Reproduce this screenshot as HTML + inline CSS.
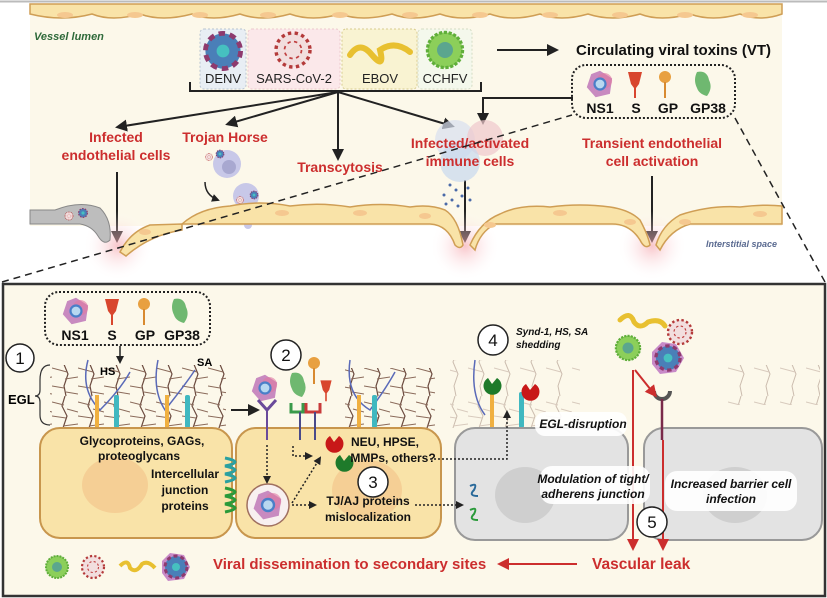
<!DOCTYPE html>
<html><head><meta charset="utf-8"><style>
html,body{margin:0;padding:0;background:#fff;}
svg{display:block;font-family:"Liberation Sans",sans-serif;}
.b{font-weight:bold;}
.r{fill:#cc2e2e;font-weight:bold;font-size:14px;}
</style></head><body>
<svg width="827" height="598" viewBox="0 0 827 598" xmlns="http://www.w3.org/2000/svg">
<defs>
<marker id="ak" markerWidth="8" markerHeight="8" refX="6" refY="4" orient="auto" markerUnits="userSpaceOnUse"><path d="M0,0 L8,4 L0,8 z" fill="#222"/></marker>
<marker id="ak2" markerWidth="12" markerHeight="12" refX="9" refY="6" orient="auto" markerUnits="userSpaceOnUse"><path d="M0,0 L12,6 L0,12 z" fill="#222"/></marker>
<marker id="ar" markerWidth="12" markerHeight="12" refX="9" refY="6" orient="auto" markerUnits="userSpaceOnUse"><path d="M0,0 L12,6 L0,12 z" fill="#cc2e2e"/></marker>
<radialGradient id="glow"><stop offset="0" stop-color="#f4a0a8" stop-opacity=".6"/><stop offset="1" stop-color="#fff" stop-opacity="0"/></radialGradient>
<pattern id="glx" width="26" height="66" patternUnits="userSpaceOnUse">
<path d="M13,0 L10,10 L15,20 L11,32 L16,44 L12,56 L14,66" stroke="#6b4a3e" fill="none" stroke-width="1.2"/>
<path d="M0,6 L12,9 M15,13 L26,16 M0,20 L14,22 M11,30 L26,28 M0,38 L15,42 M13,49 L26,47 M0,56 L12,58 M14,62 L26,64" stroke="#8a6a5a" stroke-width="1" fill="none"/>
</pattern>
<pattern id="glx2" width="26" height="66" patternUnits="userSpaceOnUse">
<path d="M13,0 L10,10 L15,20 L11,32 L16,44 L12,56 L14,66" stroke="#cbbcae" fill="none" stroke-width="1"/>
<path d="M0,6 L12,9 M15,13 L26,16 M0,20 L14,22 M11,30 L26,28 M0,38 L15,42" stroke="#d8cabd" stroke-width="1" fill="none"/>
</pattern>
<g id="virA"><circle r="11" fill="#4a7fb8"/><circle r="11" fill="none" stroke="#8e3a6e" stroke-width="3" stroke-dasharray="4 3"/><circle r="4" fill="#46c0c0"/></g>
<g id="virS"><circle r="10" fill="#f2dede" stroke="#b43a3a" stroke-width="2" stroke-dasharray="2 2"/><circle r="5" fill="none" stroke="#c04040" stroke-dasharray="2 2"/></g>
<g id="virC"><circle r="11" fill="#8ccf5a" stroke="#5fae3a" stroke-width="2" stroke-dasharray="2 1"/><circle r="5" fill="#3a8ab0" opacity=".6"/></g>
<g id="ns1"><polygon points="0,-12 11,-5 9,9 -4,12 -12,3 -8,-9" fill="#c88ac0"/><circle r="7" fill="#e07aa0" opacity=".6" cx="4" cy="-3"/><circle r="5" fill="#b8d8f0" stroke="#4a7fc8" stroke-width="2"/></g>
<g id="sprot"><path d="M-7,-12 L7,-12 L4,0 L1,4 L1,14 L-1,14 L-1,4 L-4,0 z" fill="#d8462e"/></g>
<g id="gp"><circle cy="-7" r="6" fill="#e8a040"/><rect x="-1" y="-2" width="2" height="16" fill="#d88a30"/></g>
<g id="gp38"><path d="M-6,-12 Q4,-14 6,-4 Q10,4 4,12 Q-4,10 -6,4 Q-10,-4 -6,-12z" fill="#6fb870"/></g>
</defs>

<!-- TOP PANEL -->
<line x1="0" y1="1.5" x2="827" y2="1.5" stroke="#bbb" stroke-width="2"/>
<rect x="30" y="4" width="752" height="222" fill="#fcf8ea"/>
<g fill="#f9e3a8" stroke="#cf9e55" stroke-width="1.5">
<path d="M30,4 H782 V14 Q760,22 740,14 Q712,22 690,14 Q660,22 640,14 Q612,22 588,14 Q560,22 540,14 Q512,22 490,14 Q462,22 440,14 Q412,22 392,14 Q362,22 340,14 Q312,22 290,14 Q262,22 240,14 Q212,22 192,14 Q162,22 140,14 Q112,22 92,14 Q62,22 30,14 Z"/>
</g>
<g fill="#f5c890">
<ellipse cx="65" cy="15" rx="8" ry="3"/><ellipse cx="135" cy="15" rx="8" ry="3"/><ellipse cx="200" cy="15" rx="8" ry="3"/><ellipse cx="268" cy="15" rx="8" ry="3"/><ellipse cx="340" cy="15" rx="8" ry="3"/><ellipse cx="410" cy="15" rx="8" ry="3"/><ellipse cx="480" cy="15" rx="8" ry="3"/><ellipse cx="550" cy="15" rx="8" ry="3"/><ellipse cx="620" cy="15" rx="8" ry="3"/><ellipse cx="685" cy="15" rx="8" ry="3"/><ellipse cx="750" cy="15" rx="8" ry="3"/>
</g>
<text x="34" y="40" font-size="11" font-style="italic" font-weight="bold" fill="#2f6a3a">Vessel lumen</text>

<rect x="200" y="29" width="46" height="60" rx="4" fill="#e8eef4" stroke="#b8c4d0" stroke-dasharray="2 2"/>
<rect x="248" y="29" width="92" height="60" rx="4" fill="#fbe8ea" stroke="#ecc8cc" stroke-dasharray="2 2"/>
<rect x="342" y="29" width="75" height="60" rx="4" fill="#f9f3d2" stroke="#d8cc90" stroke-dasharray="2 2"/>
<rect x="418" y="29" width="54" height="60" rx="4" fill="#f4f8ec" stroke="#d4dcc4" stroke-dasharray="2 2"/>
<use href="#virA" transform="translate(223 51) scale(1.6)"/>
<use href="#virS" transform="translate(293 50) scale(1.7)"/>
<path d="M350,55 Q360,40 372,55 Q385,70 380,50 Q395,40 410,52" stroke="#e8c030" stroke-width="6" fill="none" stroke-linecap="round"/>
<use href="#virC" transform="translate(445 50) scale(1.6)"/>
<g font-size="13" fill="#222" text-anchor="middle">
<text x="223" y="83">DENV</text><text x="294" y="83">SARS-CoV-2</text><text x="380" y="83">EBOV</text><text x="445" y="83">CCHFV</text></g>
<path d="M190,82 V91 H481 V82" stroke="#222" stroke-width="2" fill="none"/>
<g stroke="#222" stroke-width="2" fill="none">
<line x1="338" y1="92" x2="118" y2="127" marker-end="url(#ak2)"/>
<line x1="338" y1="92" x2="228" y2="124" marker-end="url(#ak2)"/>
<line x1="338" y1="92" x2="338" y2="158" marker-end="url(#ak2)"/>
<line x1="338" y1="92" x2="452" y2="126" marker-end="url(#ak2)"/>
<line x1="497" y1="50" x2="556" y2="50" marker-end="url(#ak2)"/>
<path d="M573,98 H483 V122" marker-end="url(#ak2)"/>
<line x1="117" y1="172" x2="117" y2="240" marker-end="url(#ak2)"/>
<line x1="465" y1="180" x2="465" y2="240" marker-end="url(#ak2)"/>
<line x1="652" y1="176" x2="652" y2="240" marker-end="url(#ak2)"/>
</g>
<text x="576" y="55" font-size="15" class="b" fill="#111">Circulating viral toxins (VT)</text>
<rect x="572" y="65" width="163" height="53" rx="14" fill="none" stroke="#222" stroke-width="2" stroke-dasharray="2 2"/>
<use href="#ns1" transform="translate(600 84) scale(1.1)"/>
<use href="#sprot" transform="translate(635 84)"/>
<use href="#gp" transform="translate(665 84)"/>
<use href="#gp38" transform="translate(703 84)"/>
<g font-size="14" class="b" fill="#111" text-anchor="middle"><text x="600" y="113">NS1</text><text x="636" y="113">S</text><text x="668" y="113">GP</text><text x="708" y="113">GP38</text></g>

<circle cx="455" cy="140" r="20" fill="#d8e0f0" opacity=".7"/>
<circle cx="485" cy="138" r="18" fill="#f0c8cc" opacity=".7"/>
<circle cx="460" cy="162" r="20" fill="#c8d8ee" opacity=".7"/>
<g fill="#4a6aa8"><circle cx="450" cy="185" r="1.5"/><circle cx="456" cy="190" r="1.5"/><circle cx="444" cy="195" r="1.5"/><circle cx="462" cy="196" r="1.5"/><circle cx="452" cy="200" r="1.5"/><circle cx="458" cy="206" r="1.5"/><circle cx="446" cy="204" r="1.5"/><circle cx="468" cy="188" r="1.5"/><circle cx="470" cy="200" r="1.5"/></g>
<circle cx="227" cy="164" r="14" fill="#c8c8e8"/><circle cx="229" cy="167" r="7" fill="#a8a8d0"/>
<use href="#virS" transform="translate(209 157) scale(.35)"/>
<use href="#virA" transform="translate(220 154) scale(.35)"/>
<path d="M205,182 Q205,195 218,200" stroke="#222" stroke-width="1.5" fill="none" marker-end="url(#ak)"/>
<circle cx="246" cy="196" r="13" fill="#c8c8e8"/><circle cx="248" cy="225" r="4" fill="#c8c8e8"/><rect x="246" y="205" width="3" height="20" fill="#c8c8e8"/>
<use href="#virS" transform="translate(240 200) scale(.35)"/><use href="#virA" transform="translate(254 195) scale(.35)"/>

<circle cx="118" cy="246" r="35" fill="url(#glow)"/>
<circle cx="465" cy="246" r="35" fill="url(#glow)"/>
<circle cx="652" cy="246" r="35" fill="url(#glow)"/>
<g fill="#f9e3a8" stroke="#cf9e55" stroke-width="1.5">
<path d="M182,224 Q200,208 230,206 Q260,200 290,206 Q320,202 350,207 Q380,202 410,207 Q430,204 445,210 Q458,218 463,245 Q460,250 455,245 Q448,225 430,224 Z"/>
<path d="M120,252 Q130,232 150,225 L182,224 L182,230 Q150,235 126,256 Z"/>
<path d="M470,245 Q480,222 500,214 Q520,204 550,207 Q580,203 610,207 Q630,210 640,220 Q648,235 650,245 Q645,250 640,240 Q630,224 612,224 L495,224 Q480,232 475,250 Z"/>
<path d="M656,245 Q662,225 680,215 Q710,205 740,207 Q765,204 782,206 V224 H690 Q670,230 660,250 Z"/>
</g>
<g fill="#f5c890"><ellipse cx="145" cy="232" rx="6" ry="3"/><ellipse cx="282" cy="213" rx="7" ry="3"/><ellipse cx="360" cy="213" rx="7" ry="3"/><ellipse cx="425" cy="216" rx="6" ry="3"/><ellipse cx="490" cy="225" rx="6" ry="3"/><ellipse cx="560" cy="213" rx="7" ry="3"/><ellipse cx="630" cy="222" rx="6" ry="3"/><ellipse cx="685" cy="222" rx="6" ry="3"/><ellipse cx="760" cy="214" rx="7" ry="3"/></g>
<path d="M30,210 L55,210 Q80,200 100,208 Q112,220 110,240 Q104,246 98,236 Q92,226 80,224 L30,224 Z" fill="#bdbdbd" stroke="#888"/>
<use href="#virS" transform="translate(69 216) scale(.4)"/><use href="#virA" transform="translate(83 213) scale(.4)"/>
<text x="706" y="247" font-size="9" font-style="italic" font-weight="bold" fill="#5a6a90">Interstitial space</text>

<g class="r" text-anchor="middle">
<text x="116" y="142">Infected</text><text x="116" y="160">endothelial cells</text>
<text x="225" y="142">Trojan Horse</text>
<text x="340" y="172">Transcytosis</text>
<text x="470" y="148">Infected/activated</text><text x="470" y="166">immune cells</text>
<text x="652" y="148">Transient endothelial</text><text x="652" y="166">cell activation</text>
</g>
<line x1="2" y1="282" x2="572" y2="115" stroke="#222" stroke-width="1.5" stroke-dasharray="7 5"/>
<line x1="735" y1="118" x2="825" y2="282" stroke="#222" stroke-width="1.5" stroke-dasharray="7 5"/>

<!-- BOTTOM PANEL -->
<rect x="3" y="284" width="822" height="312" fill="#fcf8ea" stroke="#333" stroke-width="2.5"/>
<rect x="45" y="292" width="165" height="53" rx="14" fill="none" stroke="#222" stroke-width="2" stroke-dasharray="2 2"/>
<use href="#ns1" transform="translate(76 311) scale(1.1)"/>
<use href="#sprot" transform="translate(112 311)"/>
<use href="#gp" transform="translate(144 311)"/>
<use href="#gp38" transform="translate(180 311)"/>
<g font-size="14" class="b" fill="#111" text-anchor="middle"><text x="75" y="340">NS1</text><text x="112" y="340">S</text><text x="145" y="340">GP</text><text x="182" y="340">GP38</text></g>
<line x1="120" y1="346" x2="120" y2="362" stroke="#222" stroke-width="1.5" marker-end="url(#ak)"/>
<text x="8" y="404" font-size="13" class="b">EGL</text>
<path d="M50,365 Q40,365 40,380 V390 Q40,396 35,396 Q40,396 40,402 V415 Q40,425 50,425" stroke="#333" fill="none" stroke-width="1.2"/>
<rect x="50" y="365" width="176" height="63" fill="url(#glx)"/>
<rect x="345" y="368" width="90" height="60" fill="url(#glx)"/>
<rect x="450" y="360" width="130" height="68" fill="url(#glx2)"/>
<rect x="720" y="365" width="100" height="40" fill="url(#glx2)"/>
<g stroke="#5a6ab8" stroke-width="1.5" fill="none">
<path d="M88,360 Q80,390 100,410 Q120,390 130,372"/><path d="M158,360 Q152,390 165,410 Q185,385 195,370"/><path d="M350,360 Q345,395 370,410 Q385,390 395,372"/><path d="M475,360 Q470,395 485,415"/></g>
<g fill="#f0b040"><rect x="95" y="395" width="4" height="33"/><rect x="165" y="395" width="4" height="33"/><rect x="357" y="395" width="4" height="33"/><rect x="490" y="392" width="4" height="36"/></g>
<g fill="#40b8c0"><rect x="114" y="395" width="5" height="33" rx="2"/><rect x="185" y="395" width="5" height="33" rx="2"/><rect x="372" y="395" width="5" height="33" rx="2"/><rect x="519" y="392" width="5" height="36" rx="2"/></g>
<text x="100" y="375" font-size="11" class="b">HS</text><text x="197" y="366" font-size="11" class="b">SA</text>
<line x1="231" y1="410" x2="257" y2="410" stroke="#222" stroke-width="2" marker-end="url(#ak2)"/>

<rect x="40" y="428" width="192" height="110" rx="20" fill="#f9e3a8" stroke="#c8964d" stroke-width="2"/>
<ellipse cx="115" cy="485" rx="33" ry="28" fill="#f5cf95"/>
<rect x="236" y="428" width="205" height="110" rx="20" fill="#f9e3a8" stroke="#c8964d" stroke-width="2"/>
<ellipse cx="367" cy="490" rx="35" ry="30" fill="#f5cf95"/>
<rect x="455" y="428" width="173" height="112" rx="20" fill="#e3e3e3" stroke="#999" stroke-width="2"/>
<ellipse cx="525" cy="495" rx="30" ry="28" fill="#cfcfcf"/>
<rect x="644" y="428" width="178" height="112" rx="20" fill="#e3e3e3" stroke="#999" stroke-width="2"/>
<ellipse cx="735" cy="495" rx="32" ry="28" fill="#cfcfcf"/>
<path d="M225,458 Q245,462 225,466 Q245,470 225,474 Q245,478 225,482" stroke="#2aa0a0" stroke-width="3" fill="none"/>
<path d="M225,488 Q245,492 225,496 Q245,500 225,504 Q245,508 225,512" stroke="#2a9a3a" stroke-width="3" fill="none"/>
<path d="M470,486 q8,-4 4,4 q-6,6 4,6" stroke="#2a6a9a" stroke-width="2" fill="none"/>
<path d="M470,510 q8,-4 4,4 q-6,6 4,6" stroke="#2a9a3a" stroke-width="2" fill="none"/>
<use href="#ns1" transform="translate(265 388) scale(1.1)"/>
<path d="M258,400 L267,410 L276,400" stroke="#6a4a9a" stroke-width="3" fill="none"/><line x1="267" y1="410" x2="267" y2="440" stroke="#6a4a9a" stroke-width="2"/>
<use href="#gp38" transform="translate(298 385)"/><use href="#gp" transform="translate(314 370)"/><use href="#sprot" transform="translate(326 390) scale(.8)"/>
<path d="M291,403 V412 H303 V403" stroke="#3a9a4a" stroke-width="3" fill="none"/><path d="M306,403 V412 H320 V403" stroke="#c83a3a" stroke-width="3" fill="none"/>
<line x1="300" y1="412" x2="300" y2="440" stroke="#4a4a8a" stroke-width="2"/><line x1="315" y1="412" x2="315" y2="440" stroke="#4a4a8a" stroke-width="2"/>
<path d="M330,436 a9,9 0 1,0 9,0 l-5,6z" fill="#c81818"/>
<path d="M340,455 a9,9 0 1,0 9,0 l-5,6z" fill="#1e7a2a"/>
<path d="M488,378 a9,9 0 1,0 9,0 l-5,6z" fill="#1e7a2a"/>
<path d="M526,384 a9,9 0 1,0 9,0 l-5,6z" fill="#c81818"/>
<g stroke="#222" stroke-width="1.5" fill="none" stroke-dasharray="2 2">
<line x1="267" y1="445" x2="267" y2="482" marker-end="url(#ak)"/>
<path d="M293,446 V456 H311" marker-end="url(#ak)"/>
<line x1="292" y1="503" x2="320" y2="458" marker-end="url(#ak)"/>
<line x1="292" y1="505" x2="315" y2="505" marker-end="url(#ak)"/>
<path d="M430,459 H507 V412" marker-end="url(#ak)"/>
<line x1="415" y1="505" x2="462" y2="505" marker-end="url(#ak)"/>
</g>
<circle cx="268" cy="505" r="21" fill="#f8f0f0" stroke="#a07060" stroke-width="1.5"/>
<use href="#ns1" transform="translate(268 505) scale(1.2)"/>

<path d="M620,320 Q630,310 634,322 Q640,330 648,322 Q660,318 665,326" stroke="#e8c030" stroke-width="5" fill="none" stroke-linecap="round"/>
<use href="#virS" transform="translate(680 332) scale(1.2)"/>
<use href="#virC" transform="translate(628 348) scale(1.1)"/>
<g transform="translate(668 358)"><polygon points="-16,-6 -6,-16 8,-14 16,0 8,14 -8,16 -16,6" fill="#c88ac8"/><use href="#virA" transform="scale(1.1)"/></g>
<path d="M654,391 a8,8 0 0,0 16,0" stroke="#555" stroke-width="4" fill="none"/>
<line x1="662" y1="399" x2="662" y2="440" stroke="#7a2a4a" stroke-width="2.5"/>
<g stroke="#cc2e2e" stroke-width="2" fill="none">
<line x1="633" y1="370" x2="633" y2="548" marker-end="url(#ar)"/>
<line x1="663" y1="440" x2="663" y2="548" marker-end="url(#ar)"/>
<line x1="635" y1="370" x2="655" y2="395" marker-end="url(#ar)"/>
<line x1="577" y1="564" x2="500" y2="564" marker-end="url(#ar)"/>
</g>

<g font-size="12" class="b" fill="#111" text-anchor="middle">
<text x="142" y="445">Glycoproteins, GAGs,</text><text x="139" y="460">proteoglycans</text>
<text x="185" y="478">Intercellular</text><text x="185" y="494">junction</text><text x="185" y="510">proteins</text>
<text x="385" y="446">NEU, HPSE,</text><text x="393" y="462">MMPs, others?</text>
<text x="368" y="505">TJ/AJ proteins</text><text x="368" y="521">mislocalization</text>
</g>
<g font-size="10" font-style="italic" class="b" fill="#111"><text x="516" y="335">Synd-1, HS, SA</text><text x="516" y="348">shedding</text></g>
<rect x="535" y="412" width="92" height="24" rx="10" fill="#fff" opacity=".9"/>
<rect x="540" y="466" width="110" height="38" rx="12" fill="#fff" opacity=".9"/>
<rect x="665" y="471" width="132" height="40" rx="12" fill="#fff" opacity=".9"/>
<g font-size="12" font-style="italic" class="b" fill="#111" text-anchor="middle">
<text x="583" y="428">EGL-disruption</text>
<text x="593" y="483">Modulation of tight/</text><text x="593" y="498">adherens junction</text>
<text x="731" y="488">Increased barrier cell</text><text x="731" y="503">infection</text>
</g>
<use href="#virC" transform="translate(57 567)"/><use href="#virS" transform="translate(93 567) scale(1.1)"/>
<path d="M120,566 Q128,558 130,568 Q136,574 142,564 Q148,560 155,568" stroke="#e8c030" stroke-width="4" fill="none"/>
<g transform="translate(176 567)"><polygon points="-14,-6 -6,-14 8,-12 14,0 8,12 -8,14 -14,6" fill="#c88ac8"/><use href="#virA"/></g>
<text x="213" y="569" font-size="15" class="b" fill="#cc2e2e">Viral dissemination to secondary sites</text>
<text x="592" y="569" font-size="15.5" class="b" fill="#cc2e2e">Vascular leak</text>

<!-- numbered circles on top -->
<g fill="#fff" stroke="#222" stroke-width="1.5"><circle cx="20" cy="358" r="14"/><circle cx="286" cy="355" r="15"/><circle cx="373" cy="482" r="15"/><circle cx="493" cy="340" r="15"/><circle cx="652" cy="522" r="15"/></g>
<g font-size="17" text-anchor="middle" fill="#111"><text x="20" y="364">1</text><text x="286" y="361">2</text><text x="373" y="488">3</text><text x="493" y="346">4</text><text x="652" y="528">5</text></g>
</svg>
</body></html>
